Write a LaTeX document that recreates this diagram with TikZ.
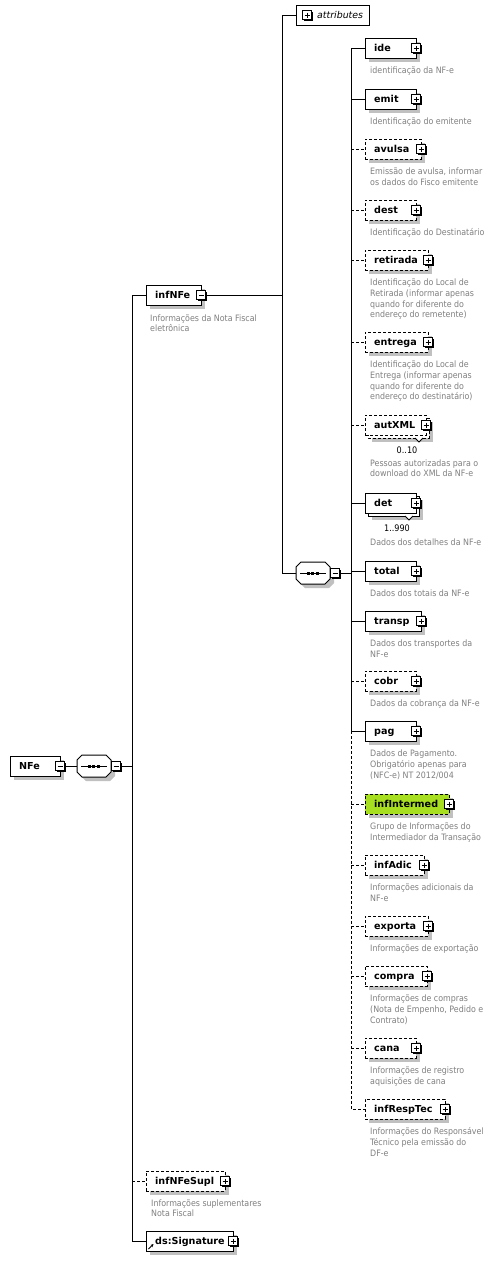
\documentclass[tikz,border=0pt]{standalone}
\usepackage{fontspec}
\setmainfont{DejaVu Sans}
\newfontfamily\condfont{DejaVu Sans Condensed}
\usetikzlibrary{arrows.meta}
\definecolor{descc}{RGB}{128,128,128}
\definecolor{shadowc}{RGB}{192,192,192}
\definecolor{hlc}{RGB}{168,222,32}
\tikzset{
  ebox/.style={draw=black, fill=white, line width=1pt, minimum height=20pt, inner sep=0pt, outer sep=0pt},
  opt/.style={dash pattern=on 3pt off 2pt},
  ename/.style={font=\fontsize{9.6}{11}\selectfont\bfseries, inner sep=0pt, text=black},
  dtext/.style={font=\condfont\fontsize{8.8}{10.8}\selectfont, text=descc, inner sep=0pt},
  occ/.style={font=\condfont\fontsize{9}{11}\selectfont, inner sep=0pt, text=black},
  btnbox/.style={draw=black, fill=white, line width=1pt, minimum size=9pt, inner sep=0pt, outer sep=0pt},
  conn/.style={line width=1pt},
}
% button: name, cx, cy, 1=plus 0=minus
\newcommand\xbtn[4]{%
  \fill[black] ({#2-3.5},{#3-3.5}) rectangle ({#2+5.5},{#3+5.5});
  \node[btnbox] (#1) at (#2,#3) {};
  \draw[line width=1pt] ({#2-2.5},#3) -- ({#2+2.5},#3);
  \ifnum#4=1 \draw[line width=1pt] (#2,{#3-2.5}) -- (#2,{#3+2.5});\fi
}
% element: name,label,left,right,cy,style,fill,btn
\newcommand\xel[8]{%
  \fill[shadowc] ({#3+4},{#5-6}) rectangle ({#4+4},{#5+14});
  \node[ebox,#6,fill=#7,minimum width={(#4-(#3))*1pt},anchor=west] (#1) at (#3,#5) {};
  \node[ename,anchor=base west] (#1-t) at ({#3+9},{#5+3.5}) {#2};
  \xbtn{#1-b}{#4}{#5}{#8}
}
% stacked element (multiple occurrences)
\newcommand\xstk[7]{% name,label,left,right,cy,style,occurrence
  \fill[shadowc] ({#3+7},{#5-3}) rectangle ({#4+7},{#5+17});
  \draw[fill=white,line width=1pt,#6] ({#3+3},{#5-7}) rectangle ({#4+3},{#5+13});
  \draw[fill=white,line width=0.8pt] ({#4-11},{#5+13}) -- ({#4-7},{#5+17}) -- ({#4-3},{#5+13});
  \node[ebox,#6,minimum width={(#4-(#3))*1pt},anchor=west] (#1) at (#3,#5) {};
  \node[ename,anchor=base west] (#1-t) at ({#3+9},{#5+3.5}) {#2};
  \xbtn{#1-b}{#4}{#5}{1}
  \node[occ] (#1-o) at ({#4-19},{#5+25}) {#7};
}
% description: name, x, y of first line centre, lines
\newcommand\xdesc[4]{%
  \foreach \t [count=\i] in {#4} {\node[dtext,anchor=base west] (#1-d\i) at (#2,{#3+3+(\i-1)*10.8}) {\t};}
}
% sequence compositor: name, left x, cy
\newcommand\xseq[3]{%
  \fill[shadowc] ({#2+9},{#3-7}) -- ({#2+33},{#3-7}) -- ({#2+38},{#3-2}) -- ({#2+38},{#3+10}) -- ({#2+33},{#3+15}) -- ({#2+9},{#3+15}) -- ({#2+4},{#3+10}) -- ({#2+4},{#3-2}) -- cycle;
  \draw[fill=white,line width=1pt] ({#2+5},{#3-11}) -- ({#2+29},{#3-11}) -- ({#2+34},{#3-6}) -- ({#2+34},{#3+6}) -- ({#2+29},{#3+11}) -- ({#2+5},{#3+11}) -- (#2,{#3+6}) -- (#2,{#3-6}) -- cycle;
  \draw[line width=1pt] ({#2+4},#3) -- ({#2+30},#3);
  \foreach \k in {12,16.5,21} {\fill ({#2+\k-1.5},{#3-1.5}) rectangle ({#2+\k+1.5},{#3+1.5});}
  \coordinate (#1-w) at (#2,#3);
  \xbtn{#1-b}{#2+39}{#3}{0}
}
\begin{document}
\begin{tikzpicture}[x=1pt,y=-1pt]
\useasboundingbox (0,0) rectangle (500,1261);
\fill[white] (0,0) rectangle (500,1261);

% ---------- connectors ----------
\coordinate (j1m) at (132,766);
\coordinate (j1a) at (132,295);
\coordinate (j1b) at (132,1181);
\coordinate (j1c) at (132,1241);
\coordinate (j2m) at (282,295);
\coordinate (j2top) at (282,15);
\coordinate (j2bot) at (282,573);
\coordinate (j3m) at (351,573);
\coordinate (j3top) at (351,48);
\coordinate (j3pag) at (351,731);
\coordinate (j3end) at (351,1109);

% ---------- root ----------
\xel{NFe}{NFe}{10}{60}{766}{}{white}{0}
\xseq{s1}{77}{766}

% ---------- level 1 ----------
\xel{infNFe}{infNFe}{146}{201}{295}{}{white}{0}
\xdesc{infNFe}{150}{318}{{Informações da Nota Fiscal},{eletrônica}}
\xel{infNFeSupl}{infNFeSupl}{146}{225}{1181}{opt}{white}{1}
\xdesc{infNFeSupl}{151}{1203}{{Informações suplementares},{Nota Fiscal}}
\xel{dsSig}{ds:Signature}{146}{233}{1241}{}{white}{1}
\draw[-{Stealth[length=3pt,width=3pt]}, line width=0.8pt] (148.5,1249) -- (153.5,1244);

% ---------- level 2 ----------
\node[ebox, minimum width=73pt, anchor=west] (attr) at (296,15) {};
\xbtn{attr-b}{307}{15}{1}
\node[font=\fontsize{9.4}{11}\selectfont\itshape, inner sep=0pt, anchor=base west] (attr-t) at (317,18.5) {attributes};
\xseq{s2}{296}{573}

% ---------- level 3 ----------
\xel{ide}{ide}{365}{416}{48}{}{white}{1}
\xdesc{ide}{370}{70.5}{{identificação da NF-e}}
\xel{emit}{emit}{365}{416}{99}{}{white}{1}
\xdesc{emit}{370}{121.5}{{Identificação do emitente}}
\xel{avulsa}{avulsa}{365}{421}{149}{opt}{white}{1}
\xdesc{avulsa}{370}{171.5}{{Emissão de avulsa, informar},{os dados do Fisco emitente}}
\xel{dest}{dest}{365}{416}{210}{opt}{white}{1}
\xdesc{dest}{370}{232.5}{{Identificação do Destinatário}}
\xel{retirada}{retirada}{365}{428}{260}{opt}{white}{1}
\xdesc{retirada}{370}{282.5}{{Identificação do Local de},{Retirada (informar apenas},{quando for diferente do},{endereço do remetente)}}
\xel{entrega}{entrega}{365}{428}{342}{opt}{white}{1}
\xdesc{entrega}{370}{364.5}{{Identificação do Local de},{Entrega (informar apenas},{quando for diferente do},{endereço do destinatário)}}
\xstk{autXML}{autXML}{365}{426}{425}{opt}{0..10}
\xdesc{autXML}{370}{463}{{Pessoas autorizadas para o},{download do XML da NF-e}}
\xstk{det}{det}{365}{416}{503}{}{1..990}
\xdesc{det}{370}{542}{{Dados dos detalhes da NF-e}}
\xel{total}{total}{365}{416}{571}{}{white}{1}
\xdesc{total}{370}{593.5}{{Dados dos totais da NF-e}}
\xel{transp}{transp}{365}{421}{621}{}{white}{1}
\xdesc{transp}{370}{643.5}{{Dados dos transportes da},{NF-e}}
\xel{cobr}{cobr}{365}{416}{681}{opt}{white}{1}
\xdesc{cobr}{370}{703.5}{{Dados da cobrança da NF-e}}
\xel{pag}{pag}{365}{416}{731}{}{white}{1}
\xdesc{pag}{370}{753.5}{{Dados de Pagamento.},{Obrigatório apenas para},{(NFC-e) NT 2012/004}}
\xel{infIntermed}{infIntermed}{365}{449}{804}{opt}{hlc}{1}
\xdesc{infIntermed}{370}{826.5}{{Grupo de Informações do},{Intermediador da Transação}}
\xel{infAdic}{infAdic}{365}{424}{865}{opt}{white}{1}
\xdesc{infAdic}{370}{887.5}{{Informações adicionais da},{NF-e}}
\xel{exporta}{exporta}{365}{428}{926}{opt}{white}{1}
\xdesc{exporta}{370}{948.5}{{Informações de exportação}}
\xel{compra}{compra}{365}{427}{976}{opt}{white}{1}
\xdesc{compra}{370}{998.5}{{Informações de compras},{(Nota de Empenho, Pedido e},{Contrato)}}
\xel{cana}{cana}{365}{416}{1048}{opt}{white}{1}
\xdesc{cana}{370}{1070.5}{{Informações de registro},{aquisições de cana}}
\xel{infRespTec}{infRespTec}{365}{445}{1109}{opt}{white}{1}
\xdesc{infRespTec}{370}{1131.5}{{Informações do Responsável},{Técnico pela emissão do},{DF-e}}

% ---------- connector lines ----------
\draw[conn] (NFe-b.east) -- (s1-w);
\draw[conn] (s1-b.east) -- (j1m);
\draw[conn] (infNFe.west) -- (j1a) -- (j1c) -- (dsSig.west);
\draw[conn,opt] (j1b) -- (infNFeSupl.west);
\draw[conn] (infNFe-b.east) -- (j2m);
\draw[conn] (attr.west) -- (j2top) -- (j2bot) -- (s2-w);
\draw[conn] (s2-b.east) -- (j3m);
\draw[conn] (ide.west) -- (j3top) -- (j3pag);
\draw[conn,opt] (j3pag) -- (j3end) -- (infRespTec.west);
\draw[conn] (351,99) -- (emit.west);
\draw[conn,opt] (351,149) -- (avulsa.west);
\draw[conn,opt] (351,210) -- (dest.west);
\draw[conn,opt] (351,260) -- (retirada.west);
\draw[conn,opt] (351,342) -- (entrega.west);
\draw[conn,opt] (351,425) -- (autXML.west);
\draw[conn] (351,503) -- (det.west);
\draw[conn] (351,571) -- (total.west);
\draw[conn] (351,621) -- (transp.west);
\draw[conn,opt] (351,681) -- (cobr.west);
\draw[conn] (351,731) -- (pag.west);
\draw[conn,opt] (351,804) -- (infIntermed.west);
\draw[conn,opt] (351,865) -- (infAdic.west);
\draw[conn,opt] (351,926) -- (exporta.west);
\draw[conn,opt] (351,976) -- (compra.west);
\draw[conn,opt] (351,1048) -- (cana.west);
\end{tikzpicture}
\end{document}
